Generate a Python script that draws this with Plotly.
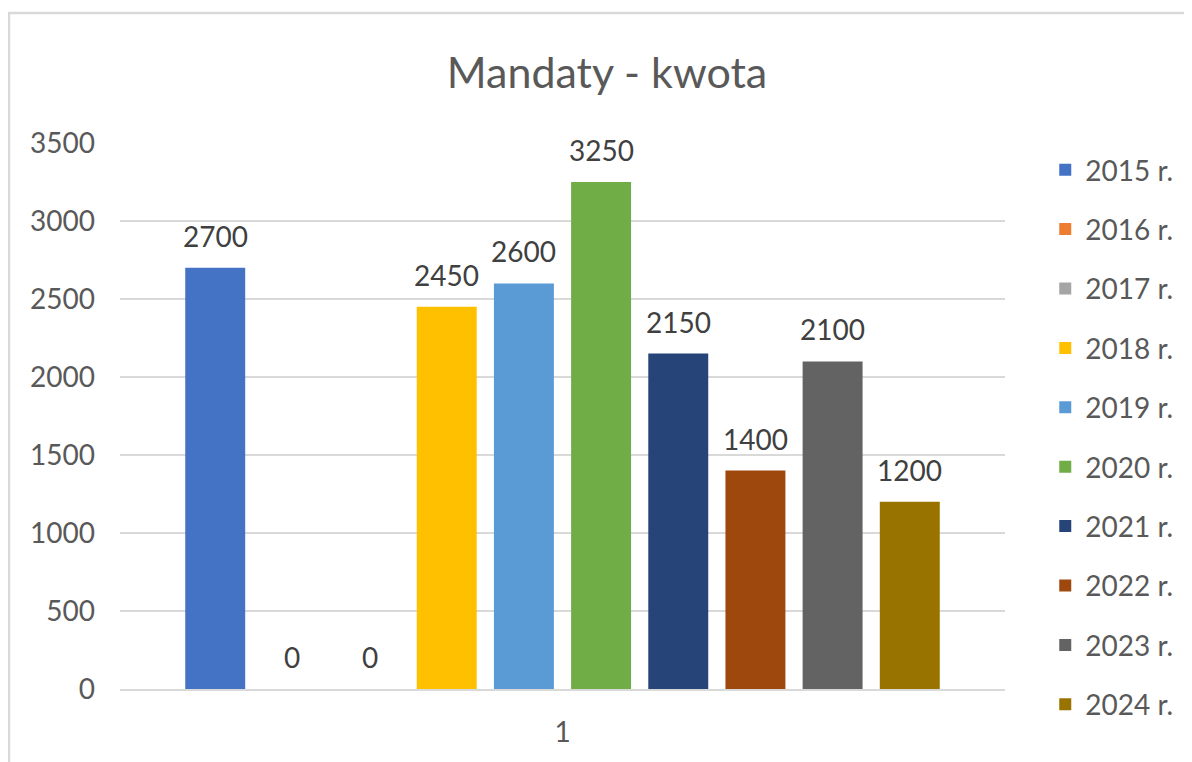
import plotly.graph_objects as go

years = ["2015 r.", "2016 r.", "2017 r.", "2018 r.", "2019 r.",
         "2020 r.", "2021 r.", "2022 r.", "2023 r.", "2024 r."]
values = [2700, 0, 0, 2450, 2600, 3250, 2150, 1400, 2100, 1200]
colors = ["#4472C4", "#ED7D31", "#A5A5A5", "#FFC000", "#5B9BD5",
          "#70AD47", "#264478", "#9E480E", "#636363", "#997300"]
category = ["1"]

W, H = 1192, 762
# the page body adds an 8px margin, so the figure is shifted by 8px
L, T = 112, 135
pw, ph = 885, 546
R, B = W - L - pw, H - T - ph
BARGAP = 0.128
slot = pw * (1 - BARGAP) / len(years)

fig = go.Figure()

for year, value, color in zip(years, values, colors):
    fig.add_trace(go.Bar(x=category,
                         y=[value],
                         name=year,
                         legendgroup=year,
                         marker_color=color,
                         marker_line_width=0))

# data labels above the bars (x=0 is the index of the single category)
for i, value in enumerate(values):
    fig.add_annotation(x=0, y=value, text=str(value),
                       showarrow=False, xshift=(i - (len(values) - 1) / 2) * slot,
                       yshift=32, yanchor="middle",
                       font=dict(size=28, color="#404040"))

fig.update_layout(
    width=W, height=H,
    margin=dict(l=L, r=R, t=T, b=B),
    paper_bgcolor="white",
    plot_bgcolor="white",
    font=dict(family="Lato", size=28, color="#595959"),
    title=dict(text="Mandaty - kwota", x=599 / W, xref="container",
               y=1 - 65 / H, yref="container", xanchor="center", yanchor="middle",
               font=dict(size=43, color="#595959")),
    barmode="group",
    bargap=BARGAP,
    bargroupgap=0.223,
    showlegend=True,
    legend=dict(x=1.05 - 4 / pw, xanchor="left", y=1 + (T - 137) / ph, yanchor="top",
                tracegroupgap=20, maxheight=1000,
                font=dict(size=28, color="#595959")),
    shapes=[dict(type="rect", xref="paper", yref="paper",
                 x0=(1 - L) / pw, x1=(W + 10 - L) / pw,
                 y0=-(B + 10) / ph, y1=(T + ph - 5) / ph,
                 line=dict(color="#d9d9d9", width=2.5), layer="below")],
)

fig.update_yaxes(range=[0, 3500], dtick=500, showgrid=True, gridcolor="#d9d9d9",
                 gridwidth=1.5, zeroline=False, showline=False,
                 ticklabelstandoff=24, tickfont=dict(size=28, color="#595959"))
fig.update_xaxes(type="category", range=[-0.5, 0.5], showline=True,
                 linecolor="#d9d9d9", linewidth=1.5,
                 tickfont=dict(size=28, color="#595959"), ticklabelstandoff=18)

fig.write_html("out.html")
